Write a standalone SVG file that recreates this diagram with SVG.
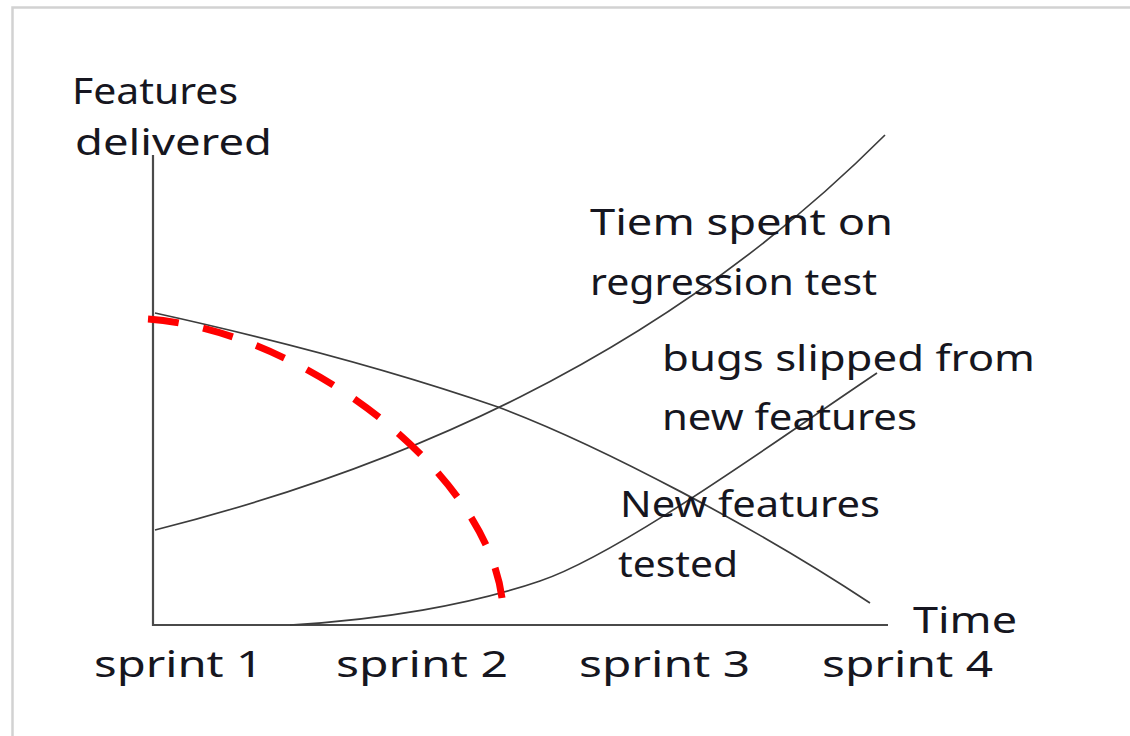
<svg xmlns="http://www.w3.org/2000/svg" width="1130" height="736" viewBox="0 0 1130 736">
  <style>
    .frame { fill: none; stroke: #d2d2d2; stroke-width: 2.5; }
    .axis { fill: none; stroke: #4a4a4a; stroke-width: 2.2; }
    .curve { fill: none; stroke: #3c3c3c; stroke-width: 1.7; }
    .limit { fill: none; stroke: #ff0000; stroke-width: 7; stroke-dasharray: 31 25; }
    .lbl { font-family: "Noto Sans", "DejaVu Sans", sans-serif; font-size: 36px; fill: #161620; }
  </style>

  <rect width="1130" height="736" fill="#ffffff"/>

  <!-- page frame: top and left edges -->
  <g id="frame">
    <path class="frame" d="M12.5,736 V7.5 H1130"/>
  </g>

  <!-- chart axes -->
  <g id="axes">
    <path class="axis" d="M153,155 V625 H888"/>
  </g>

  <!-- trend curves -->
  <g id="curves">
    <!-- time spent on regression test -->
    <path id="curve-regression" class="curve" d="M155,530 C385,472 655,365 885,135"/>
    <!-- new features delivered -->
    <path id="curve-delivered" class="curve" d="M155,313 C300,345 420,380 498,407 C600,445 760,530 870,603"/>
    <!-- bugs slipped from new features -->
    <path id="curve-bugs" class="curve" d="M290,625 C380,620 470,605 540,581 C620,554 777,440 877,373"/>
    <!-- capacity limit -->
    <path id="curve-limit" class="limit" pathLength="479" d="M148,319 C300,330 485,470 502,598"/>
  </g>

  <!-- labels -->
  <g id="labels">
    <g id="label-y-axis">
      <text class="lbl" x="72" y="104" textLength="166" lengthAdjust="spacingAndGlyphs">Features</text>
      <text class="lbl" x="75" y="155" textLength="197" lengthAdjust="spacingAndGlyphs">delivered</text>
    </g>
    <g id="label-regression">
      <text class="lbl" x="590" y="235" textLength="303" lengthAdjust="spacingAndGlyphs">Tiem spent on</text>
      <text class="lbl" x="590" y="295" textLength="287" lengthAdjust="spacingAndGlyphs">regression test</text>
    </g>
    <g id="label-bugs">
      <text class="lbl" x="662" y="371" textLength="373" lengthAdjust="spacingAndGlyphs">bugs slipped from</text>
      <text class="lbl" x="662" y="430" textLength="255" lengthAdjust="spacingAndGlyphs">new features</text>
    </g>
    <g id="label-tested">
      <text class="lbl" x="620" y="517" textLength="260" lengthAdjust="spacingAndGlyphs">New features</text>
      <text class="lbl" x="618" y="577" textLength="120" lengthAdjust="spacingAndGlyphs">tested</text>
    </g>
    <g id="label-x-axis">
      <text class="lbl" x="913" y="633" textLength="104" lengthAdjust="spacingAndGlyphs">Time</text>
    </g>
    <g id="label-sprints">
      <text class="lbl" x="94" y="677" textLength="169" lengthAdjust="spacingAndGlyphs">sprint 1</text>
      <text class="lbl" x="336" y="677" textLength="172" lengthAdjust="spacingAndGlyphs">sprint 2</text>
      <text class="lbl" x="579" y="677" textLength="171" lengthAdjust="spacingAndGlyphs">sprint 3</text>
      <text class="lbl" x="822" y="677" textLength="171" lengthAdjust="spacingAndGlyphs">sprint 4</text>
    </g>
  </g>
</svg>
